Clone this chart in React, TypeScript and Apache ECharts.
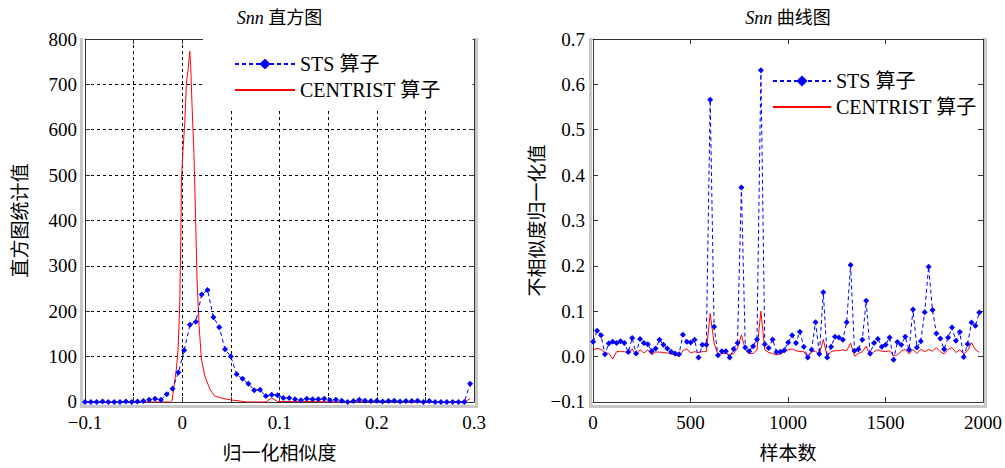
import React, { useEffect, useRef } from 'react';
import * as echarts from 'echarts';

const FONT = "'Liberation Serif', 'Times New Roman', 'Noto Sans CJK SC', serif";

// ---- Left chart: Snn histogram ----
const histX = [
  -0.1, -0.094, -0.088, -0.082, -0.076, -0.07, -0.064, -0.058, -0.052, -0.046,
  -0.04, -0.034, -0.028, -0.022, -0.016, -0.01, -0.004, 0.002, 0.008, 0.014,
  0.02, 0.026, 0.032, 0.038, 0.044, 0.05, 0.056, 0.062, 0.068, 0.074,
  0.08, 0.086, 0.092, 0.098, 0.104, 0.11, 0.116, 0.122, 0.128, 0.134,
  0.14, 0.146, 0.152, 0.158, 0.164, 0.17, 0.176, 0.182, 0.188, 0.194,
  0.2, 0.206, 0.212, 0.218, 0.224, 0.23, 0.236, 0.242, 0.248, 0.254,
  0.26, 0.266, 0.272, 0.278, 0.284, 0.29, 0.296,
];
const stsHist = [
  0, 0, 0, 1, 0, 0, 0, 1, 0, 1,
  2, 5, 7, 5, 17, 29, 65, 114, 170, 177,
  237, 247, 187, 165, 116, 100, 61, 51, 40, 26,
  27, 13, 16, 15, 9, 9, 6, 4, 7, 6,
  6, 7, 4, 5, 3, 0, 2, 5, 3, 2,
  3, 1, 2, 3, 1, 2, 2, 3, 0, 2,
  0, 0, 0, 0, 0, 0, 40,
];
const centristHistX = [
  -0.1, -0.012, -0.0105, -0.0084, -0.006, -0.0043, -0.0026, -0.0015, -0.0008, 0.0008,
  0.0026, 0.0043, 0.006, 0.0077, 0.0087, 0.0101, 0.0121, 0.0139, 0.0152, 0.0173,
  0.0197, 0.0231, 0.0283, 0.0334, 0.0437, 0.052, 0.06, 0.066, 0.086, 0.092,
  0.098, 0.13, 0.16, 0.2, 0.25, 0.29, 0.296,
];
const centristHist = [
  0, 0, 3, 36, 73, 117, 212, 359, 491, 557,
  615, 703, 733, 773, 740, 652, 542, 388, 271, 168,
  95, 58, 29, 13, 7, 4, 2, 0, 0, 9,
  1, 1, 0, 1, 0, 0, 7,
];
const histXTickLabels = ['\u22120.1', '', '0', '', '0.1', '', '0.2', '', '0.3'];

// ---- Right chart: Snn curve ----
const sampleIdx = [
  1, 21, 41, 61, 81, 101, 121, 141, 161, 181,
  201, 221, 241, 261, 281, 301, 321, 341, 361, 381,
  401, 421, 441, 461, 481, 501, 521, 541, 561, 581,
  601, 621, 641, 661, 681, 701, 721, 741, 761, 781,
  801, 821, 841, 861, 881, 901, 921, 941, 961, 981,
  1001, 1021, 1041, 1061, 1081, 1101, 1121, 1141, 1161, 1181,
  1201, 1221, 1241, 1261, 1281, 1301, 1321, 1341, 1361, 1381,
  1401, 1421, 1441, 1461, 1481, 1501, 1521, 1541, 1561, 1581,
  1601, 1621, 1641, 1661, 1681, 1701, 1721, 1741, 1761, 1781,
  1801, 1821, 1841, 1861, 1881, 1901, 1921, 1941, 1961, 1981,
];
const stsCurve = [
  0.033, 0.057, 0.047, 0.005, 0.029, 0.033, 0.030, 0.034, 0.030, 0.010,
  0.041, 0.007, 0.039, 0.030, 0.027, 0.012, 0.018, 0.037, 0.026, 0.018,
  0.011, 0.007, 0.005, 0.048, 0.033, 0.031, 0.037, -0.002, 0.026, 0.026,
  0.566, 0.066, 0.003, 0.012, 0.012, -0.002, 0.017, 0.030, 0.373, 0.020,
  0.012, 0.023, 0.038, 0.631, 0.027, 0.019, 0.038, 0.010, 0.011, 0.014,
  0.031, 0.047, 0.030, 0.055, 0.022, -0.002, 0.015, 0.076, 0.006, 0.142,
  -0.002, 0.022, 0.044, 0.042, 0.037, 0.076, 0.202, 0.013, 0.016, 0.037,
  0.123, 0.007, 0.030, 0.039, 0.022, 0.026, 0.042, -0.007, 0.032, 0.026,
  0.044, 0.015, 0.104, 0.020, 0.034, 0.098, 0.198, 0.103, 0.051, 0.040,
  0.016, 0.042, 0.064, 0.035, 0.054, -0.001, 0.028, 0.075, 0.068, 0.097,
];
const centristCurve = [
  0.015, 0.018, 0.016, 0.009, 0.007, -0.005, 0.011, 0.011, 0.011, 0.007,
  0.017, 0.004, 0.015, 0.008, 0.015, 0.004, 0.010, 0.010, 0.009, 0.008,
  0.006, 0.004, 0.000, 0.013, 0.017, 0.008, 0.011, 0.009, 0.011, 0.011,
  0.095, 0.030, 0.004, 0.007, 0.007, 0.004, 0.007, 0.018, 0.048, 0.015,
  0.007, 0.007, 0.015, 0.100, 0.015, 0.009, 0.007, 0.004, 0.006, 0.011,
  0.015, 0.017, 0.013, 0.011, 0.011, -0.001, 0.011, 0.012, 0.005, 0.038,
  0.001, 0.011, 0.013, 0.013, 0.015, 0.013, 0.030, 0.001, 0.007, 0.011,
  0.023, 0.001, 0.011, 0.015, 0.012, 0.011, 0.013, 0.002, 0.004, 0.012,
  0.016, 0.006, 0.016, 0.007, 0.016, 0.011, 0.016, 0.012, 0.020, 0.011,
  0.006, 0.016, 0.020, 0.009, 0.015, 0.006, 0.013, 0.031, 0.015, 0.009,
];
const curveXTickLabels = ['0', '500', '1000', '1500', '2000'];
const curveYTickLabels = ['\u22120.1', '0.0', '0.1', '0.2', '0.3', '0.4', '0.5', '0.6', '0.7'];

const STS = 'STS 算子';
const CEN = 'CENTRIST 算子';

const zip = (xs: number[], ys: number[]) => xs.map((x, i) => [x, ys[i]]);

const frameLine = { show: true, onZero: false, lineStyle: { color: '#333', width: 1 } };
const tickIn = { show: true, inside: true, length: 5, lineStyle: { color: '#333' } };
const labelStyle = { color: '#000', fontSize: 19, lineHeight: 14, fontFamily: FONT };
const nameStyle = { color: '#000', fontSize: 19, fontFamily: FONT };

const legendData = [
  { name: STS },
  { name: CEN, itemStyle: { opacity: 0 } },
];

export default function App() {
  const ref = useRef<HTMLDivElement>(null);
  useEffect(() => {
    if (!ref.current) return;
    const chart = echarts.init(ref.current, null, { renderer: 'svg' });
    const gray = '#c8c8c8';
    chart.setOption({
      animation: false,
      backgroundColor: '#fff',
      textStyle: { fontFamily: FONT },
      grid: [
        { left: 85, top: 39, width: 389, height: 364 },
        { left: 593, top: 39, width: 390, height: 364 },
      ],
      graphic: [
        { type: 'rect', shape: { x: 80, y: 38, width: 3, height: 370 }, style: { fill: gray }, silent: true },
        { type: 'rect', shape: { x: 80, y: 405, width: 397, height: 3 }, style: { fill: gray }, silent: true },
        { type: 'rect', shape: { x: 475, y: 38, width: 3, height: 370 }, style: { fill: gray }, silent: true },
        { type: 'rect', shape: { x: 589, y: 38, width: 3, height: 370 }, style: { fill: gray }, silent: true },
        { type: 'rect', shape: { x: 589, y: 405, width: 398, height: 3 }, style: { fill: gray }, silent: true },
        { type: 'rect', shape: { x: 984, y: 38, width: 3, height: 370 }, style: { fill: gray }, silent: true },
        {
          type: 'text', x: 279.5, y: 18,
          style: {
            text: '{i|Snn} 直方图', align: 'center', verticalAlign: 'middle',
            fontSize: 18, fontFamily: FONT, fill: '#000',
            rich: { i: { fontStyle: 'italic', fontSize: 18, fontFamily: FONT } },
          },
        },
        {
          type: 'text', x: 788, y: 18,
          style: {
            text: '{i|Snn} 曲线图', align: 'center', verticalAlign: 'middle',
            fontSize: 18, fontFamily: FONT, fill: '#000',
            rich: { i: { fontStyle: 'italic', fontSize: 18, fontFamily: FONT } },
          },
        },
      ],
      legend: [
        {
          orient: 'vertical', left: 203, top: 39,
          padding: [15, 32, 9, 31], backgroundColor: '#fff',
          itemWidth: 60, itemHeight: 14, itemGap: 6,
          data: legendData,
          textStyle: { fontSize: 20, lineHeight: 20, color: '#000', fontFamily: FONT },
          selectedMode: false,
        },
        {
          orient: 'vertical', left: 772, top: 71, padding: 0,
          itemWidth: 58, itemHeight: 14, itemGap: 6,
          data: legendData,
          textStyle: { fontSize: 20, lineHeight: 20, color: '#000', fontFamily: FONT },
          selectedMode: false,
        },
      ],
      xAxis: [
        {
          gridIndex: 0, type: 'value', min: -0.1, max: 0.3, interval: 0.05, position: 'bottom',
          axisLine: frameLine, axisTick: tickIn,
          axisLabel: { ...labelStyle, margin: 14, formatter: (_v: number, i: number) => histXTickLabels[i] ?? '' },
          splitLine: { show: true, lineStyle: { color: '#000', type: [3, 3], width: 1 } },
          name: '归一化相似度', nameLocation: 'middle', nameGap: 42, nameTextStyle: nameStyle,
        },
        {
          gridIndex: 1, type: 'value', min: 0, max: 2000, interval: 500, position: 'bottom',
          axisLine: frameLine, axisTick: tickIn,
          axisLabel: { ...labelStyle, margin: 14, formatter: (_v: number, i: number) => curveXTickLabels[i] ?? '' },
          splitLine: { show: false },
          name: '样本数', nameLocation: 'middle', nameGap: 42, nameTextStyle: nameStyle,
        },
        {
          gridIndex: 0, type: 'value', min: -0.1, max: 0.3, interval: 0.05, position: 'top',
          axisLine: frameLine, axisTick: tickIn, axisLabel: { show: false }, splitLine: { show: false },
        },
        {
          gridIndex: 1, type: 'value', min: 0, max: 2000, interval: 500, position: 'top',
          axisLine: frameLine, axisTick: tickIn, axisLabel: { show: false }, splitLine: { show: false },
        },
      ],
      yAxis: [
        {
          gridIndex: 0, type: 'value', min: 0, max: 800, interval: 100, position: 'left',
          axisLine: frameLine, axisTick: tickIn,
          axisLabel: { ...labelStyle, margin: 8 },
          splitLine: { show: true, lineStyle: { color: '#000', type: [3, 3], width: 1 } },
          name: '直方图统计值', nameLocation: 'middle', nameGap: 55, nameTextStyle: nameStyle,
        },
        {
          gridIndex: 1, type: 'value', min: -0.1, max: 0.7, interval: 0.1, position: 'left',
          axisLine: frameLine, axisTick: tickIn,
          axisLabel: { ...labelStyle, margin: 8, formatter: (_v: number, i: number) => curveYTickLabels[i] ?? '' },
          splitLine: { show: false },
          name: '不相似度归一化值', nameLocation: 'middle', nameGap: 46, nameTextStyle: nameStyle,
        },
        {
          gridIndex: 0, type: 'value', min: 0, max: 800, interval: 100, position: 'right',
          axisLine: frameLine, axisTick: tickIn, axisLabel: { show: false }, splitLine: { show: false },
        },
        {
          gridIndex: 1, type: 'value', min: -0.1, max: 0.7, interval: 0.1, position: 'right',
          axisLine: frameLine, axisTick: tickIn, axisLabel: { show: false }, splitLine: { show: false },
        },
      ],
      series: [
        {
          name: STS, type: 'line', xAxisIndex: 0, yAxisIndex: 0,
          data: zip(histX, stsHist),
          symbol: 'diamond', symbolSize: 6, showSymbol: true,
          lineStyle: { color: '#0000ff', width: 1, type: [4, 3] },
          itemStyle: { color: '#0000ff' }, z: 3,
        },
        {
          name: CEN, type: 'line', xAxisIndex: 0, yAxisIndex: 0,
          data: zip(centristHistX, centristHist),
          symbol: 'none',
          lineStyle: { color: '#ff0000', width: 1 },
          itemStyle: { color: '#ff0000' }, z: 2,
        },
        {
          name: STS, type: 'line', xAxisIndex: 1, yAxisIndex: 1,
          data: zip(sampleIdx, stsCurve),
          symbol: 'diamond', symbolSize: 6, showSymbol: true,
          lineStyle: { color: '#0000ff', width: 1, type: [4, 3] },
          itemStyle: { color: '#0000ff' }, z: 3,
        },
        {
          name: CEN, type: 'line', xAxisIndex: 1, yAxisIndex: 1,
          data: zip(sampleIdx, centristCurve),
          symbol: 'none',
          lineStyle: { color: '#ff0000', width: 1 },
          itemStyle: { color: '#ff0000' }, z: 2,
        },
      ],
    });
    return () => chart.dispose();
  }, []);
  return (
    <div
      ref={ref}
      style={{ position: 'absolute', left: 0, top: 0, width: 1005, height: 468 }}
    />
  );
}
